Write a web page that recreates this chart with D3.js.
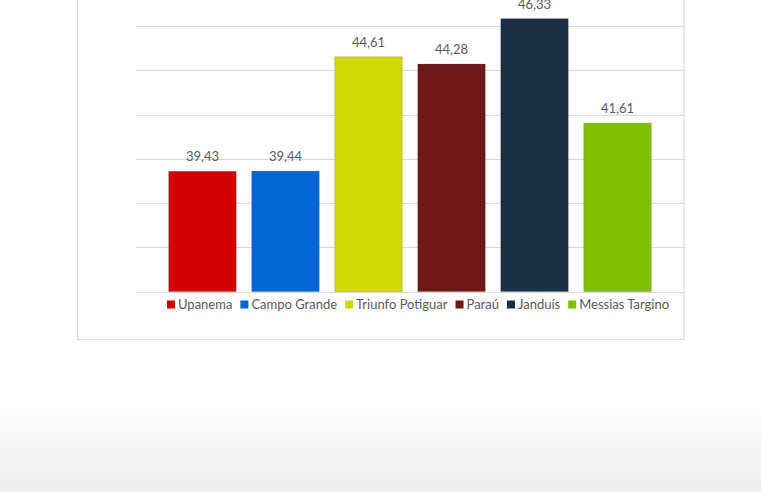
<!DOCTYPE html>
<html><head><meta charset="utf-8">
<script src="https://cdn.jsdelivr.net/npm/d3@7"></script>
<style>html,body{margin:0;padding:0;background:#fff;}svg{display:block;}</style>
</head><body>
<svg id="c" width="761" height="492"></svg>
<script>
const categories = ["Upanema", "Campo Grande", "Triunfo Potiguar", "Paraú", "Janduís", "Messias Targino"];
const values = [39.43, 39.44, 44.61, 44.28, 46.33, 41.61];
const valueLabels = ["39,43", "39,44", "44,61", "44,28", "46,33", "41,61"];
const colors = ["#d40000", "#0066d2", "#d0d800", "#6e1818", "#1b2f45", "#80c000"];
const yTicks = [34, 36, 38, 40, 42, 44, 46, 48];

const svg = d3.select("#c");
const FONT = "Lato, 'Open Sans', sans-serif";

// background gradient at bottom
const defs = svg.append("defs");
const g = defs.append("linearGradient").attr("id","bg").attr("x1",0).attr("y1",0).attr("x2",0).attr("y2",1);
g.append("stop").attr("offset","0").attr("stop-color","#ffffff");
g.append("stop").attr("offset","1").attr("stop-color","#eeeeee");
svg.append("rect").attr("x",0).attr("y",395).attr("width",761).attr("height",97).attr("fill","url(#bg)");

// chart box
svg.append("rect").attr("x",77.5).attr("y",-10).attr("width",606.5).attr("height",349.5)
  .attr("fill","#fff").attr("stroke","#d9d9d9").attr("stroke-width",1.2);

const x = d3.scaleBand().domain(categories).range([136, 684]).paddingInner(0.187).paddingOuter(0.394);
const y = d3.scaleLinear().domain([34, 48]).range([291.5, 291.5 - 14*22.125]);

// gridlines
svg.append("g").selectAll("line").data(yTicks).join("line")
  .attr("x1",136).attr("x2",684)
  .attr("y1",d=>Math.round(y(d))+0.5).attr("y2",d=>Math.round(y(d))+0.5)
  .attr("stroke","#d9d9d9").attr("stroke-width",1);

// bars
svg.append("g").selectAll("rect").data(values).join("rect")
  .attr("x",(d,i)=>x(categories[i]))
  .attr("width",x.bandwidth())
  .attr("y",d=>y(d))
  .attr("height",d=>y(34)-y(d))
  .attr("fill",(d,i)=>colors[i])
  .attr("stroke","rgba(0,0,0,0.18)").attr("stroke-width",0.8);

// value labels
svg.append("g").selectAll("text").data(values).join("text")
  .attr("x",(d,i)=>x(categories[i])+x.bandwidth()/2)
  .attr("y",d=>y(d)-10)
  .attr("text-anchor","middle")
  .attr("font-family",FONT).attr("font-size","13px").attr("fill","#595959")
  .text((d,i)=>valueLabels[i]);

// legend
const leg = svg.append("g");
let cx = 167;
categories.forEach((c,i)=>{
  leg.append("rect").attr("x",cx).attr("y",300.5).attr("width",8).attr("height",8).attr("fill",colors[i]);
  const t = leg.append("text").attr("x",cx+11).attr("y",309)
    .attr("font-family",FONT).attr("font-size","13px").attr("fill","#595959").text(c);
  const w = t.node().getComputedTextLength();
  cx += 11 + w + 8;
});
</script>
</body></html>
